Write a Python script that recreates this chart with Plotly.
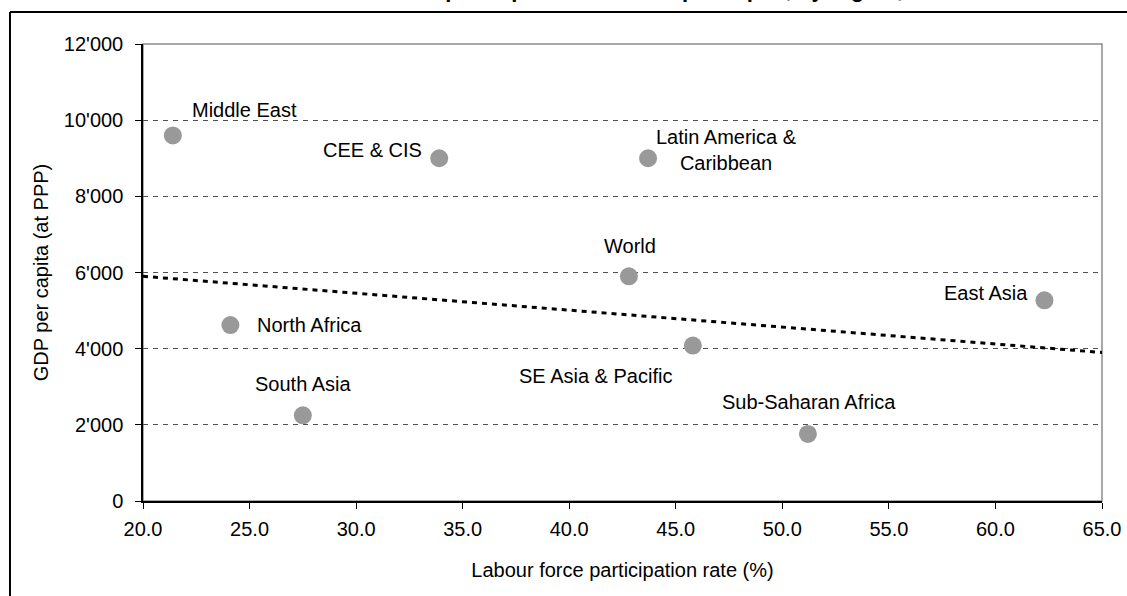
import plotly.graph_objects as go

# ---- data ----
regions = ["Middle East", "CEE & CIS", "Latin America & Caribbean", "World",
           "East Asia", "SE Asia & Pacific", "Sub-Saharan Africa",
           "North Africa", "South Asia"]
participation = [21.4, 33.9, 43.7, 42.8, 62.3, 45.8, 51.2, 24.1, 27.5]
gdp_per_capita = [9600, 9000, 9000, 5900, 5270, 4080, 1760, 4620, 2250]

trend_x = [20.0, 65.0]
trend_y = [5900, 3900]

x_ticks = [20, 25, 30, 35, 40, 45, 50, 55, 60, 65]
y_ticks = [0, 2000, 4000, 6000, 8000, 10000, 12000]

title_text = "Female labour force participation and GDP per capita, by region, 2006"

# ---- label placement (style only) ----
label_style = {
    "Middle East": dict(xanchor="center", xshift=72, yshift=25),
    "CEE & CIS": dict(xanchor="right", xshift=-15, yshift=8),
    "Latin America & Caribbean": dict(xanchor="center", xshift=78, yshift=8),
    "World": dict(xanchor="center", xshift=1, yshift=30),
    "East Asia": dict(xanchor="right", xshift=-14, yshift=7),
    "SE Asia & Pacific": dict(xanchor="right", xshift=-19, yshift=-30),
    "Sub-Saharan Africa": dict(xanchor="center", xshift=1, yshift=32),
    "North Africa": dict(xanchor="left", xshift=25, yshift=0),
    "South Asia": dict(xanchor="center", xshift=1, yshift=31),
}
line_breaks = {"Latin America & Caribbean": "Latin America &<br>Caribbean"}

FONT = "Liberation Sans, Arial, sans-serif"

fig = go.Figure()

fig.add_trace(go.Scatter(
    x=trend_x, y=trend_y, mode="lines",
    line=dict(color="black", width=3, dash="5px,5px"),
    hoverinfo="skip", showlegend=False,
))

fig.add_trace(go.Scatter(
    x=participation, y=gdp_per_capita, mode="markers",
    marker=dict(size=18, color="#999999", line=dict(width=0)),
    text=regions, showlegend=False,
))

annotations = []
for name, xv, yv in zip(regions, participation, gdp_per_capita):
    st = label_style[name]
    annotations.append(dict(
        x=xv, y=yv, xref="x", yref="y",
        text=line_breaks.get(name, name), showarrow=False,
        xanchor=st["xanchor"], yanchor="middle",
        xshift=st["xshift"], yshift=st["yshift"],
        align="center",
        font=dict(family=FONT, size=20, color="black"),
    ))

# clipped title at the very top
annotations.append(dict(
    x=0.47, y=1.088, xref="paper", yref="paper",
    text="<b>" + title_text + "</b>", showarrow=False,
    xanchor="center", yanchor="bottom",
    font=dict(family=FONT, size=22, color="black"),
))

fig.update_layout(
    width=1127, height=596,
    margin=dict(l=143, r=25, t=44, b=95, pad=0, autoexpand=False),
    paper_bgcolor="white", plot_bgcolor="white",
    separators=".'",
    font=dict(family=FONT, size=20, color="black"),
    annotations=annotations,
    showlegend=False,
    shapes=[
        # plot-area border (grey top/right)
        dict(type="rect", xref="paper", yref="paper", x0=0, y0=0, x1=1, y1=1,
             line=dict(color="#8c8c8c", width=1.5), layer="below"),
        # outer chart frame (partially cropped)
        dict(type="line", xref="paper", yref="paper", x0=-0.1387, x1=-0.1387,
             y0=-0.3, y1=1.0701, line=dict(color="black", width=2)),
        dict(type="line", xref="paper", yref="paper", x0=-0.1387, x1=1.2,
             y0=1.0701, y1=1.0701, line=dict(color="black", width=2)),
    ],
)

fig.update_xaxes(
    range=[20, 65], tickvals=x_ticks, tickformat=".1f",
    automargin=False,
    showgrid=False, zeroline=False,
    showline=True, linecolor="black", linewidth=1.5,
    ticks="outside", ticklen=6, tickcolor="black", tickwidth=1.2,
    ticklabelstandoff=3,
    tickfont=dict(family=FONT, size=20),
    title=dict(text="Labour force participation rate (%)",
               font=dict(family=FONT, size=20), standoff=24),
)
fig.update_yaxes(
    range=[0, 12000], tickvals=y_ticks, tickformat=",d",
    automargin=False,
    showgrid=True, gridcolor="#505050", gridwidth=1, griddash="5px,5px",
    zeroline=False,
    showline=True, linecolor="black", linewidth=1.5,
    ticks="outside", ticklen=6, tickcolor="black", tickwidth=1.2,
    ticklabelstandoff=8,
    tickfont=dict(family=FONT, size=20),
    title=dict(text="GDP per capita (at PPP)",
               font=dict(family=FONT, size=20), standoff=10),
)

fig.write_html("out.html",
               config={"displayModeBar": False},
               post_script="document.body.style.margin='0px';document.body.style.overflow='hidden';")
